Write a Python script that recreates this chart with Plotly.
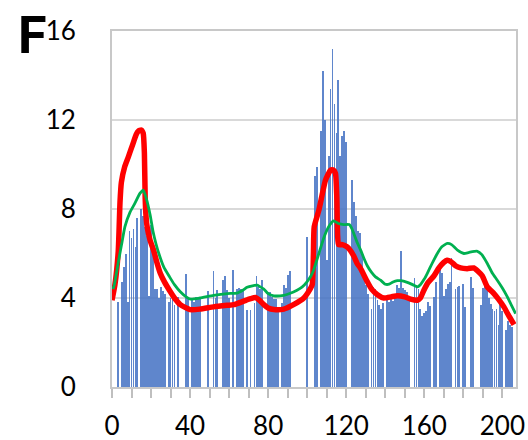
import plotly.graph_objects as go

# Bar series: one value per position 0..206 (0 = no bar at that position)
bar_values = [
    0, 0, 0, 3.8, 0, 4.7, 5.4, 6.0, 3.8, 7.0,          # 0-9
    6.7, 7.1, 6.3, 7.6, 0, 8.0, 7.7, 7.2, 6.8, 4.1,     # 10-19
    7.3, 6.4, 4.4, 4.4, 4.0, 4.5, 4.3, 4.2, 0, 3.8,     # 20-29
    4.0, 4.0, 3.7, 0, 4.05, 0, 0, 0, 5.1, 4.0,          # 30-39
    0, 3.9, 3.8, 4.05, 4.0, 4.05, 0, 0, 0, 4.3,         # 40-49
    0, 0, 5.2, 4.0, 4.35, 0, 0, 4.8, 5.0, 4.35,         # 50-59
    3.98, 0, 5.26, 0, 4.4, 4.45, 4.4, 4.3, 0, 3.46,     # 60-69
    0, 3.46, 0, 3.76, 4.99, 4.5, 4.4, 4.8, 0, 0,        # 70-79
    4.28, 4.28, 4.05, 3.95, 3.95, 3.6, 0, 3.76, 4.6, 4.45,  # 80-89
    5.05, 5.2, 0, 0, 0, 0, 0, 0, 0, 0,                  # 90-99
    6.75, 0, 0, 0, 9.5, 9.9, 0, 11.5, 14.2, 12.0,       # 100-109
    5.7, 10.4, 13.4, 15.2, 12.7, 11.4, 13.8, 10.4, 11.3, 11.5,  # 110-119
    11.0, 0, 0, 9.3, 8.3, 7.7, 7.0, 6.9, 6.0, 5.2,      # 120-129
    4.6, 4.2, 0, 3.5, 4.5, 4.4, 3.9, 3.7, 3.5, 3.76,    # 130-139
    0, 3.9, 3.8, 3.95, 3.85, 4.05, 4.6, 4.45, 6.13, 4.45,  # 140-149
    4.36, 4.25, 4.05, 0, 0, 4.88, 4.6, 4.4, 3.5, 3.2,   # 150-159
    3.33, 3.4, 3.8, 3.65, 0, 4.05, 4.74, 0, 5.25, 5.14,  # 160-169
    4.09, 4.4, 4.62, 4.7, 5.78, 0, 4.39, 4.5, 4.54, 0,  # 170-179
    4.61, 3.6, 0, 0, 4.96, 4.43, 0, 0, 0, 3.7,          # 180-189
    4.43, 4.73, 4.65, 4.0, 3.73, 3.5, 3.4, 3.5, 2.8, 3.73,  # 190-199
    3.4, 0, 2.56, 2.98, 2.8, 2.7, 0,                    # 200-206
]
bar_x = list(range(len(bar_values)))

# Thick red curve
red_x = [0, 1.5, 3.2, 4.1, 4.8, 6.5, 8.2, 9.8, 11.2, 12.4, 13.5, 15, 16, 16.6,
         17, 17.5, 18, 19.5, 21.3, 23, 24.8, 27, 29.9, 32, 35, 40, 45, 52,
         59, 62.4, 67.5, 71, 73.5, 75.5, 77.8, 80, 83, 88, 93, 98.3, 101.5,
         102.6, 103.2, 103.6, 106, 109.4, 112, 113.5, 114.5, 115.2, 115.6,
         116.1, 118, 120.4, 122, 123.8, 125.6, 127.2, 130.7, 133, 136, 139.3,
         143, 146.2, 150, 153, 156.4, 158, 159.8, 162, 165, 167.5, 170, 171.7,
         173.5, 176, 178.6, 182, 185.4, 187.5, 189.7, 192.3, 195.7, 198,
         200.8, 203, 206]
red_y = [3.9, 4.6, 6.1, 8.3, 9.2, 9.9, 10.3, 10.7, 11.05, 11.35, 11.5, 11.55, 11.4, 10.5,
         8.5, 7.6, 7.2, 6.6, 6.15, 5.6, 5.1, 4.7, 4.28, 4.0, 3.7, 3.48, 3.5, 3.6,
         3.67, 3.7, 3.86, 3.97, 4.02, 3.9, 3.7, 3.55, 3.48, 3.5, 3.7, 4.0, 4.4,
         4.6, 6.0, 7.2, 7.95, 9.3, 9.75, 9.75, 9.6, 8.5, 6.8,
         6.4, 6.4, 6.3, 6.15, 5.9, 5.55, 5.35, 4.75, 4.4, 4.15, 4.0,
         4.05, 4.1, 4.05, 3.95, 3.9, 4.0, 4.35, 4.7, 5.0, 5.35, 5.6, 5.7,
         5.65, 5.45, 5.35, 5.32, 5.35, 5.2, 5.0, 4.5, 4.2, 3.95,
         3.6, 3.25, 2.8]

# Thin green curve
green_x = [0.5, 1.2, 3.2, 4.9, 6.6, 9.2, 11.7, 14.3, 16, 17.5, 19.5, 21, 22.5,
           24, 26.5, 29.5, 32, 35, 38, 40.2, 45, 52, 59, 64, 67, 69.2, 72,
           74.4, 76, 77.8, 80, 82.9, 88, 91, 94.8, 97.5, 99.9, 102, 103.4, 106,
           108.5, 111, 113.5, 116, 118.8, 121.5, 123, 125.6, 127.4, 129, 130.8,
           133, 135, 137.6, 140, 142, 144, 146.2, 148, 151.3, 154, 156.4, 158,
           160, 161.5, 164, 166.7, 169, 171.8, 174, 177, 180.3, 183, 187.2,
           189.5, 192.3, 195, 197.4, 200, 202.5, 204.5, 206.8]
green_y = [4.4, 4.6, 5.6, 6.4, 7.2, 7.85, 8.25, 8.7, 8.85, 8.5, 7.75, 7.0, 6.45,
           6.0, 5.4, 4.95, 4.6, 4.28, 4.05, 3.95, 4.0, 4.12, 4.2, 4.22, 4.35, 4.48, 4.55,
           4.58, 4.5, 4.4, 4.2, 4.1, 4.12, 4.2, 4.35, 4.5, 4.73, 5.0, 5.28, 6.0,
           6.7, 7.2, 7.47, 7.35, 7.3, 7.3, 7.1, 6.5, 6.15, 5.8, 5.45,
           5.15, 4.95, 4.8, 4.62, 4.62, 4.72, 4.78, 4.78, 4.7, 4.6, 4.5, 4.6,
           4.85, 5.1, 5.55, 6.0, 6.3, 6.45, 6.4, 6.15, 6.0, 6.05, 6.1,
           5.95, 5.55, 5.1, 4.8, 4.45, 4.06, 3.7, 3.3]

x_tick_vals = list(range(0, 201, 10))
x_tick_text = [str(v) if v % 40 == 0 else "" for v in x_tick_vals]
y_tick_vals = [0, 4, 8, 12, 16]

fig = go.Figure()
fig.add_trace(go.Bar(x=bar_x, y=bar_values, width=0.42,
                     marker=dict(color="#4472C4", line=dict(width=0)),
                     opacity=0.85))
fig.add_trace(go.Scatter(x=red_x, y=red_y, mode="lines",
                         line=dict(color="#FF0000", width=5.5, shape="spline",
                                   smoothing=0.5)))
fig.add_trace(go.Scatter(x=green_x, y=green_y, mode="lines",
                         line=dict(color="#00B050", width=2.8, shape="spline",
                                   smoothing=0.5)))

font_family = "Lato, 'Open Sans', sans-serif"
fig.update_layout(
    width=528, height=440,
    margin=dict(l=112, r=12, t=31, b=53),
    paper_bgcolor="white", plot_bgcolor="white",
    showlegend=False,
    bargap=0,
    font=dict(family=font_family, size=26, color="black"),
    xaxis=dict(range=[0, 207], tickvals=x_tick_vals, ticktext=x_tick_text,
               ticks="outside", ticklen=9, tickwidth=1.5, tickcolor="#bfbfbf",
               showline=True, linecolor="#c8c8c8", linewidth=2, mirror=True,
               showgrid=False, zeroline=False, ticklabelstandoff=6,
               automargin=False,
               tickfont=dict(family=font_family, size=26, color="black")),
    yaxis=dict(range=[0, 16], tickvals=y_tick_vals, ticks="",
               showline=True, linecolor="#c8c8c8", linewidth=2, mirror=True,
               showgrid=True, gridcolor="#d9d9d9", gridwidth=1.5,
               zeroline=False, ticklabelstandoff=29, automargin=False,
               tickfont=dict(family=font_family, size=26, color="black")),
    annotations=[dict(text="<b>F</b>", showarrow=False,
                      xref="paper", yref="paper",
                      x=(32 - 112) / 404, y=(387 - 35) / 356,
                      xanchor="center", yanchor="middle",
                      font=dict(family="Roboto", size=52, color="black"))],
)

fig.write_html("out.html")
